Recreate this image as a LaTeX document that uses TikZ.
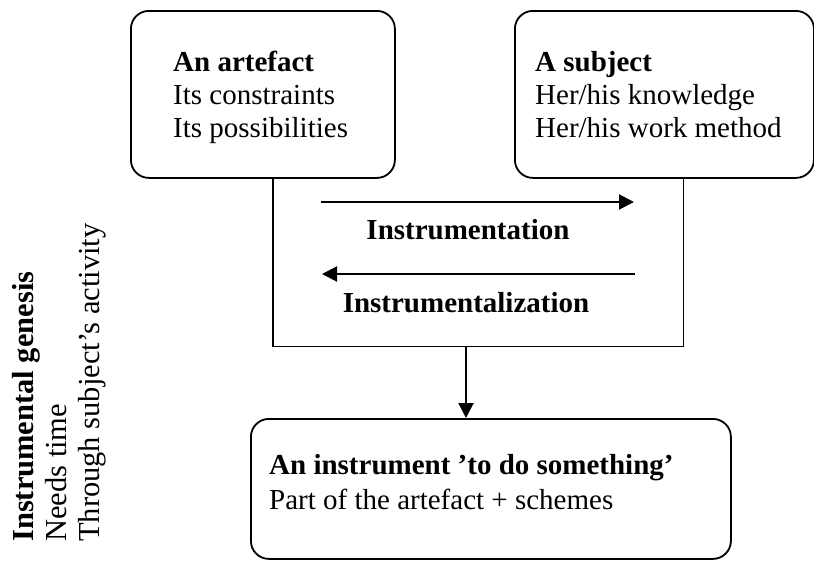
\documentclass[tikz,border=0pt]{standalone}
\usepackage{fontspec}
\setmainfont{Liberation Serif}
\usetikzlibrary{arrows.meta}
\begin{document}
\begin{tikzpicture}[x=1pt,y=-1pt,
  box/.style={draw, line width=1.8pt, rounded corners=18pt, anchor=north west, inner sep=0pt},
  txt/.style={inner sep=0pt, anchor=base west, font=\fontsize{29}{33}\selectfont},
  vtxt/.style={inner sep=0pt, anchor=base west, rotate=90, font=\fontsize{30.5}{33}\selectfont},
  arr/.style={line width=2pt, -{Triangle[length=15pt,width=15pt]}},
  plain/.style={line width=1.8pt}]
\path[use as bounding box] (0,0) rectangle (814,560);
% boxes
\node[box, minimum width=264pt, minimum height=167pt] (art) at (130,10) {};
\node[box, minimum width=299pt, minimum height=167pt] (sub) at (514,10) {};
\node[box, minimum width=480pt, minimum height=140pt] (ins) at (250,418) {};
\node[inner sep=0pt, anchor=north west, minimum width=410pt, minimum height=169pt] (mid) at (273,177) {};
\draw[plain] (mid.north west) |- (mid.south east) -- (mid.north east);
% box texts
\node[txt] (a1) at (173,71) {\textbf{An artefact}};
\node[txt] (a2) at (173,104) {Its constraints};
\node[txt] (a3) at (173,137) {Its possibilities};
\node[txt] (s1) at (535,71) {\textbf{A subject}};
\node[txt] (s2) at (535,104) {Her/his knowledge};
\node[txt] (s3) at (535,137) {Her/his work method};
\node[txt] (i1) at (269,474) {\textbf{An instrument ’to do something’}};
\node[txt] (i2) at (269,509) {Part of the artefact + schemes};
% arrows
\coordinate (ra) at (321,202);
\coordinate (rb) at (634,202);
\coordinate (la) at (635,274);
\coordinate (lb) at (322,274);
\draw[arr] (ra) -- (rb);
\draw[arr] (la) -- (lb);
\node[txt, anchor=base] (lab1) at (468,239) {\textbf{Instrumentation}};
\node[txt, anchor=base] (lab2) at (466,312) {\textbf{Instrumentalization}};
\coordinate (d1) at (466,346);
\draw[arr] (d1) -- (d1 |- ins.north);
% rotated text
\node[vtxt] (g1) at (33,542) {\textbf{Instrumental genesis}};
\node[vtxt] (g2) at (66,542) {Needs time};
\node[vtxt] (g3) at (99,542) {Through subject’s activity};
\end{tikzpicture}
\end{document}
